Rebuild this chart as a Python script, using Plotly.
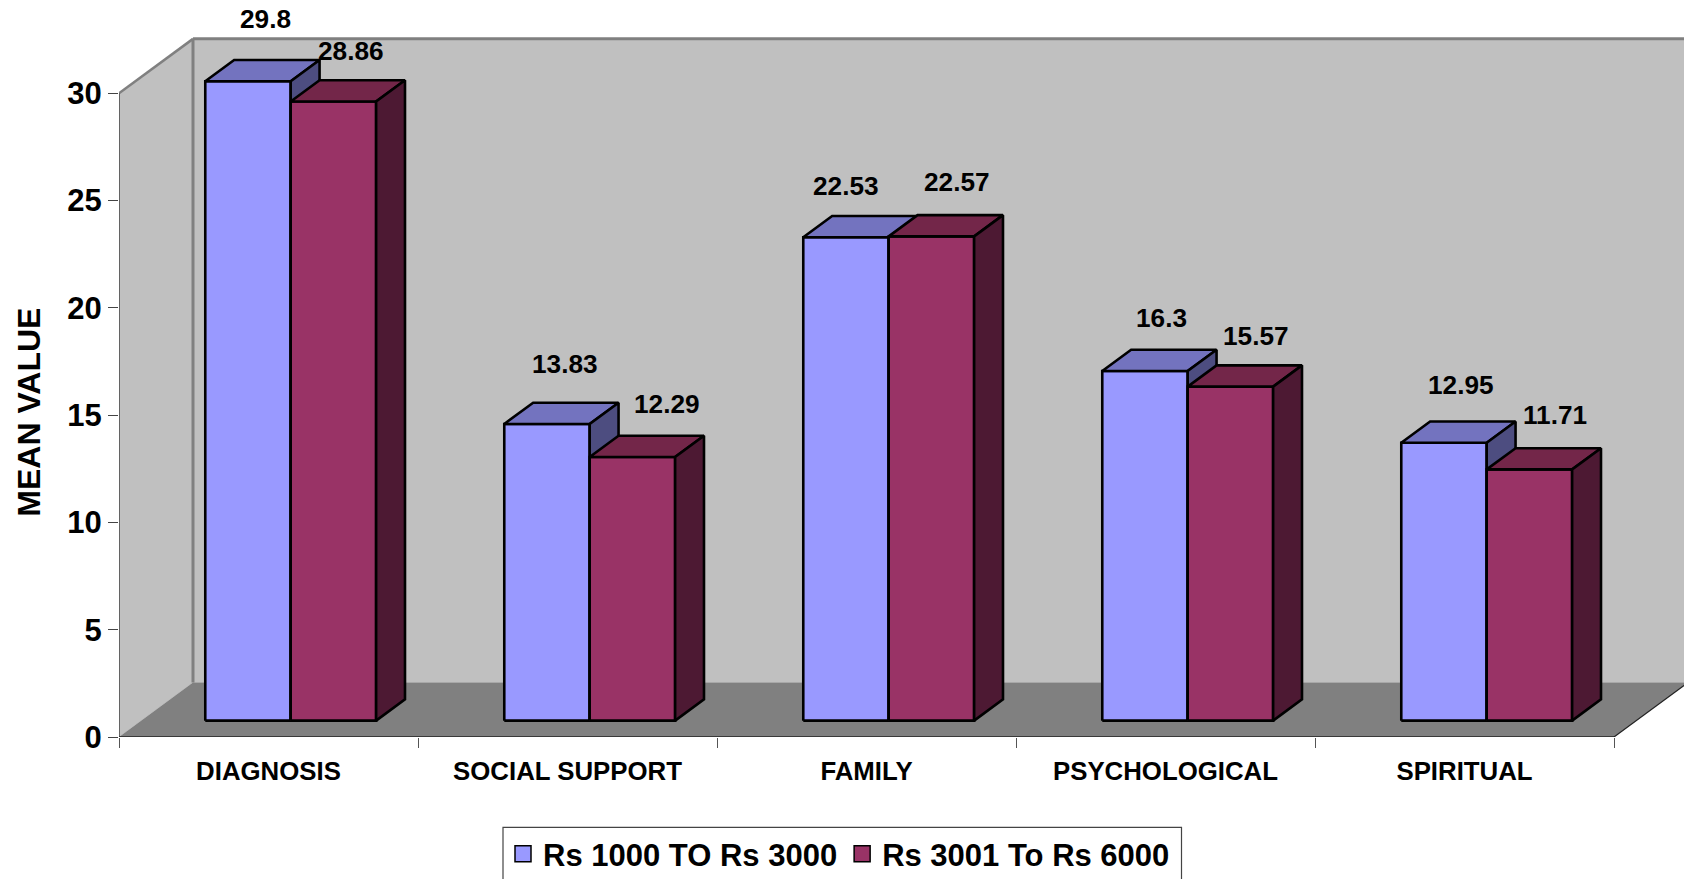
import plotly.graph_objects as go

categories = ["DIAGNOSIS", "SOCIAL SUPPORT", "FAMILY", "PSYCHOLOGICAL", "SPIRITUAL"]
series_names = ["Rs 1000 TO Rs 3000", "Rs 3001 To Rs 6000"]
low_income = [29.8, 13.83, 22.53, 16.3, 12.95]
high_income = [28.86, 12.29, 22.57, 15.57, 11.71]
low_labels = ["29.8", "13.83", "22.53", "16.3", "12.95"]
high_labels = ["28.86", "12.29", "22.57", "15.57", "11.71"]
y_ticks = [0, 5, 10, 15, 20, 25, 30]

# label nudges from the top of each bar (pixels)
low_shift = [(18, 62), (18, 60), (0, 51), (17, 53), (17, 58)]
high_shift = [(18, 50), (35, 53), (26, 54), (26, 51), (26, 54)]

W, H = 1684, 879
X0, Y0 = 119, 737.5          # pixel position of the axes origin
CAT_PX, UNIT_PX = 299.0, 21.47
DX, DY = 74 / CAT_PX, 54.5 / UNIT_PX   # full depth of the box, in axis units
BAR_W, BAR_GAP = 1 / 3.5, 0.75 / 3.5
D1, D2 = 0.30, 0.69          # bar front / back depth

FONT = "Liberation Sans"
BLUE = ("#9999FF", "#7373BF", "#4D4D80")
RED = ("#993366", "#732649", "#4D1933")


def proj(x, y, d=0.0):
    return x + d * DX, y + d * DY


def poly(points, fill, line="black", width=2.6):
    pts = points + [points[0]]
    return go.Scatter(
        x=[p[0] for p in pts], y=[p[1] for p in pts], mode="lines", fill="toself",
        fillcolor=fill, line=dict(color=line, width=width), showlegend=False,
        hoverinfo="skip",
    )


def seg(a, b, color, width):
    return go.Scatter(
        x=[a[0], b[0]], y=[a[1], b[1]], mode="lines", line=dict(color=color, width=width),
        showlegend=False, hoverinfo="skip",
    )


fig = go.Figure()
n = len(categories)
top = max(y_ticks)
far = n

# Box: side wall, back wall, floor
fig.add_trace(poly([proj(0, 0), proj(0, top), proj(0, top, 1), proj(0, 0, 1)], "#C0C0C0", "#C0C0C0", 0.1))
fig.add_trace(poly([proj(0, 0, 1), proj(0, top, 1), proj(far, top, 1), proj(far, 0, 1)], "#C0C0C0", "#C0C0C0", 0.1))
fig.add_trace(poly([proj(0, 0), proj(far, 0), proj(far, 0, 1), proj(0, 0, 1)], "#808080", "#808080", 0.1))
fig.add_trace(seg(proj(0, top), proj(0, top, 1), "#808080", 2.5))
fig.add_trace(seg(proj(0, top, 1), proj(far, top, 1), "#808080", 3))
fig.add_trace(seg(proj(0, 0, 1), proj(0, top, 1), "#808080", 3))
fig.add_trace(seg(proj(far, 0), proj(far, 0, 1), "#222222", 1.2))
fig.add_trace(seg(proj(0, 0), proj(0, top), "#444444", 1.5))
fig.add_trace(seg(proj(0, 0), proj(far, 0), "#222222", 1.5))


def add_bar(x, v, colors):
    front, topc, side = colors
    xr = x + BAR_W
    fig.add_trace(poly([proj(x, 0, D1), proj(x, v, D1), proj(xr, v, D1), proj(xr, 0, D1)], front))
    fig.add_trace(poly([proj(x, v, D1), proj(x, v, D2), proj(xr, v, D2), proj(xr, v, D1)], topc))
    fig.add_trace(poly([proj(xr, 0, D1), proj(xr, v, D1), proj(xr, v, D2), proj(xr, 0, D2)], side))


annotations = []
for i in range(n):
    left = i + BAR_GAP
    add_bar(left, low_income[i], BLUE)
    add_bar(left + BAR_W, high_income[i], RED)
    for x, v, txt, sh in (
        (left + BAR_W / 2, low_income[i], low_labels[i], low_shift[i]),
        (left + 1.5 * BAR_W, high_income[i], high_labels[i], high_shift[i]),
    ):
        px, py = proj(x, v, D1)
        annotations.append(dict(
            x=px, y=py, xref="x", yref="y", text=txt, showarrow=False,
            xshift=sh[0], yshift=sh[1], xanchor="center", yanchor="middle",
            font=dict(family=FONT, size=26.2, color="black", weight="bold"),
        ))

annotations.append(dict(
    x=(29 - X0) / (W - X0), y=(Y0 - 413) / Y0, xref="paper", yref="paper", text="MEAN VALUE",
    textangle=-90, showarrow=False, xanchor="center", yanchor="middle",
    font=dict(family=FONT, size=32, color="black", weight="bold"),
))

for name, col in zip(series_names, (BLUE[0], RED[0])):
    fig.add_trace(go.Scatter(
        x=[None], y=[None], mode="markers", name=name,
        marker=dict(symbol="square", size=16, color=col, line=dict(color="black", width=1.5)),
    ))

fig.update_layout(
    width=W, height=H, paper_bgcolor="white", plot_bgcolor="white",
    margin=dict(l=X0, r=0, t=0, b=H - Y0, pad=0), autosize=False,
    xaxis=dict(
        range=[0, (W - X0) / CAT_PX], showgrid=False, zeroline=False, showline=False,
        tickmode="array", tickvals=[i + 0.5 for i in range(n)], ticktext=categories, ticks="",
        ticklabelstandoff=16, tickangle=0, automargin=False,
        tickfont=dict(family=FONT, size=25.8, color="black", weight="bold"),
        minor=dict(tickmode="array", tickvals=list(range(n + 1)), ticks="outside", ticklen=10,
                   tickcolor="#555555", tickwidth=1.2, showgrid=False),
    ),
    yaxis=dict(
        range=[0, Y0 / UNIT_PX], showgrid=False, zeroline=False, showline=False, automargin=False,
        tickmode="array", tickvals=y_ticks, ticktext=[str(t) for t in y_ticks],
        ticks="outside", ticklen=10, tickcolor="#444444", tickwidth=1.2,
        tickfont=dict(family=FONT, size=31, color="black", weight="bold"),
    ),
    legend=dict(
        orientation="h", xref="container", yref="container",
        x=503 / W, xanchor="left",
        y=(H - 827) / H, yanchor="top", borderwidth=0, bgcolor="rgba(0,0,0,0)",
        font=dict(family=FONT, size=31, color="black", weight="bold"),
    ),
    annotations=annotations,
    shapes=[dict(
        type="rect", xref="paper", yref="paper", layer="below",
        x0=(503 - X0) / (W - X0), x1=(1181.5 - X0) / (W - X0),
        y0=(Y0 - 900) / Y0, y1=(Y0 - 828) / Y0,
        line=dict(color="#444444", width=1.2), fillcolor="white",
    )],
)

fig.write_html("out.html", config=dict(displayModeBar=False),
               post_script="document.body.style.margin='0';document.documentElement.style.overflow='hidden';")
